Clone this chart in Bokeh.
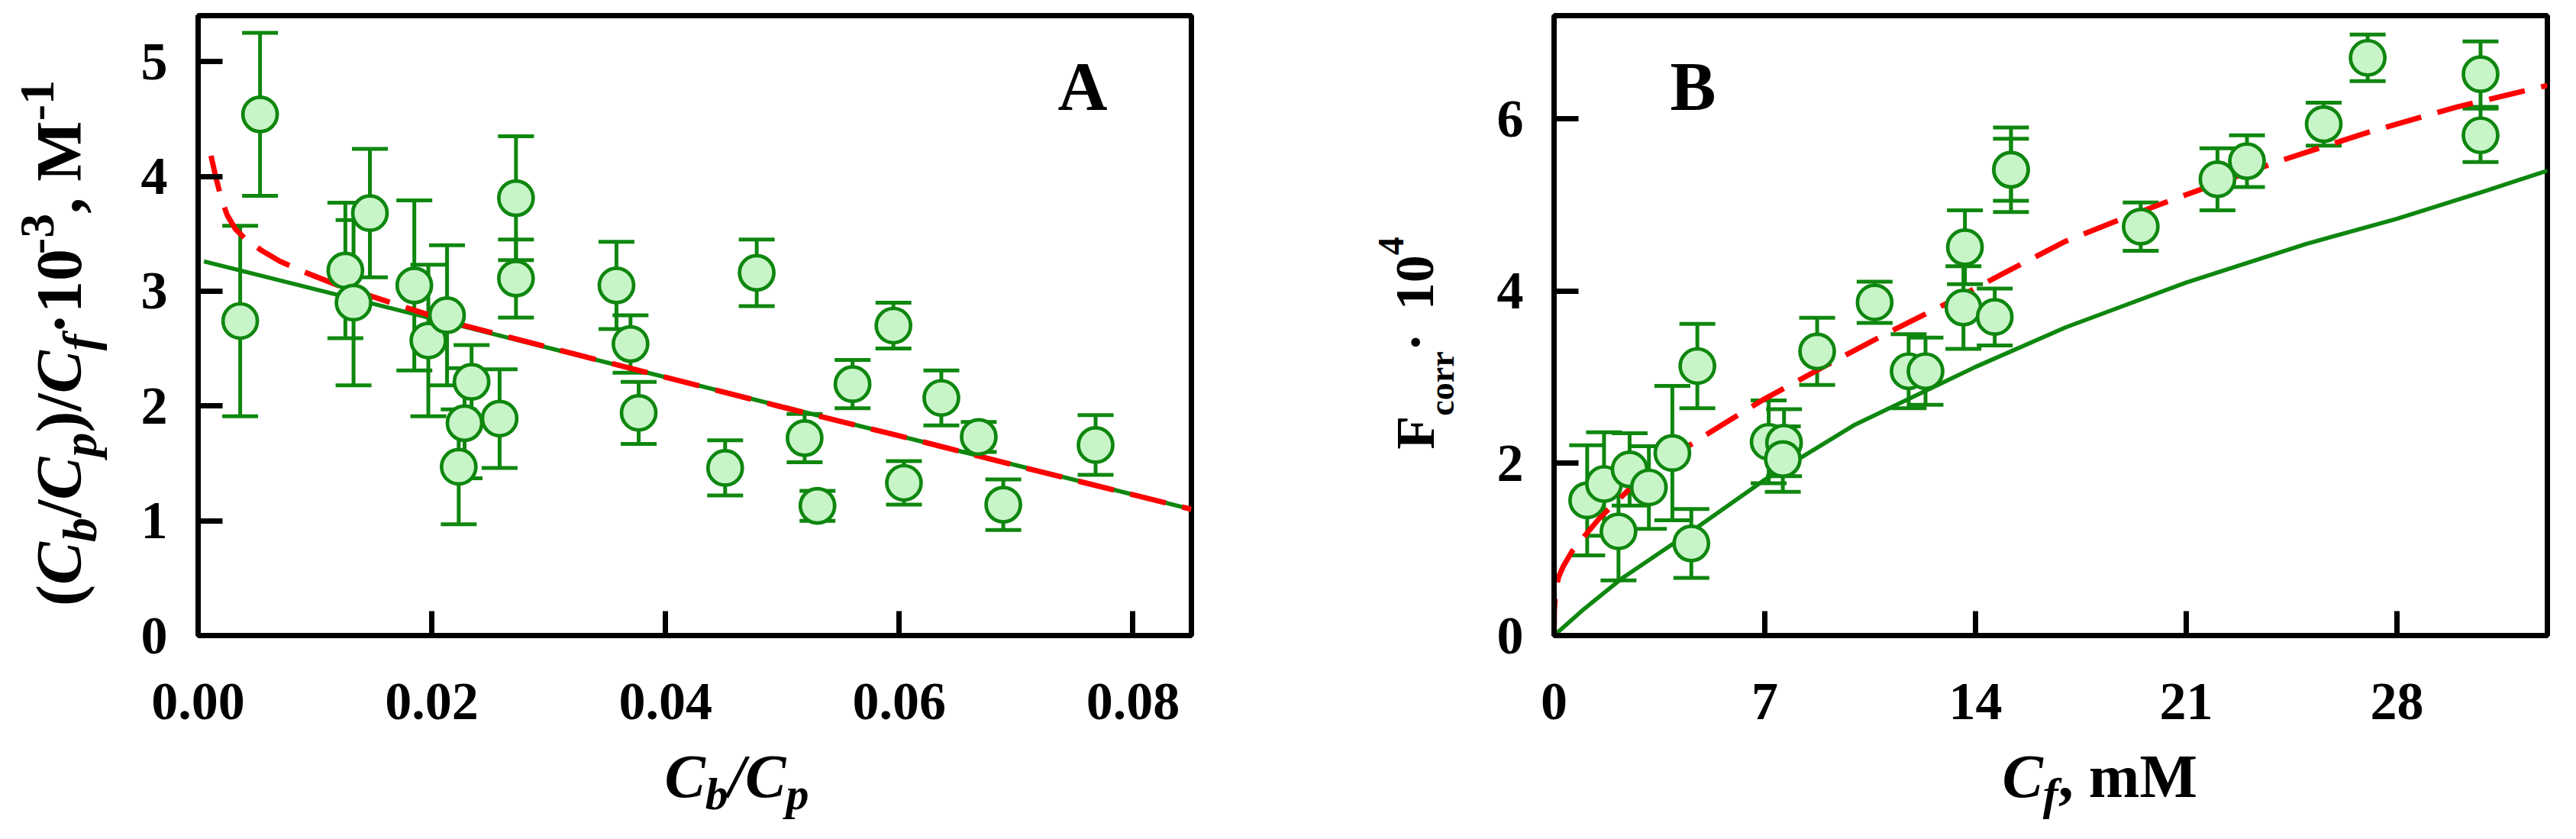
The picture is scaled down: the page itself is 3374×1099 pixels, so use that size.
import math
from bokeh.plotting import figure
from bokeh.models import Range1d, FixedTicker, NumeralTickFormatter, Whisker, TeeHead, ColumnDataSource, Label
from bokeh.layouts import row, column
from bokeh.embed import file_html
from bokeh.resources import INLINE

# ---------------- data: panel A ----------------
xA = [0.0036, 0.0053, 0.0126, 0.0133, 0.0147, 0.0185, 0.0197, 0.0213, 0.0234, 0.0228,
      0.0223, 0.0258, 0.0272, 0.0272, 0.0358, 0.0370, 0.0377, 0.0451, 0.0478, 0.0519,
      0.0530, 0.0560, 0.0595, 0.0604, 0.0636, 0.0668, 0.0689, 0.0768]
yA = [2.74, 4.54, 3.18, 2.90, 3.68, 3.05, 2.57, 2.79, 2.21, 1.85,
      1.47, 1.89, 3.81, 3.11, 3.05, 2.54, 1.94, 1.46, 3.16, 1.72,
      1.13, 2.19, 2.70, 1.33, 2.07, 1.73, 1.14, 1.66]
eA = [0.83, 0.71, 0.59, 0.72, 0.56, 0.74, 0.66, 0.61, 0.32, 0.48,
      0.50, 0.43, 0.54, 0.34, 0.38, 0.25, 0.27, 0.24, 0.29, 0.21,
      0.13, 0.21, 0.20, 0.19, 0.24, 0.13, 0.22, 0.26]
fitA_x = [0.0005, 0.085]
fitA_y = [3.26, 1.10]
redA_x = [0.0011, 0.0015, 0.0020, 0.0025, 0.0032, 0.0042, 0.0055, 0.0070, 0.0090, 0.012,
          0.015, 0.018, 0.022, 0.030, 0.040, 0.050, 0.060, 0.070, 0.085]
redA_y = [4.18, 4.00, 3.80, 3.66, 3.54, 3.44, 3.35, 3.26, 3.17, 3.05,
          2.95, 2.85, 2.72, 2.51, 2.25, 1.99, 1.74, 1.48, 1.10]
xticksA = [0.0, 0.02, 0.04, 0.06, 0.08]
yticksA = [0, 1, 2, 3, 4, 5]

# ---------------- data: panel B ----------------
xB = [1.10, 1.66, 2.14, 2.51, 3.15, 3.93, 4.76, 4.56, 7.13, 7.64, 7.60, 8.74, 10.65, 11.78,
      12.34, 13.60, 13.65, 14.64, 15.18, 15.18, 19.49, 22.04, 23.02, 25.57, 27.03, 30.78, 30.78]
yB = [1.57, 1.76, 1.21, 1.93, 1.72, 2.12, 3.13, 1.07, 2.25, 2.24, 2.05, 3.30, 3.87, 3.07,
      3.07, 3.81, 4.51, 3.70, 5.41, 5.41, 4.75, 5.30, 5.51, 5.94, 6.71, 6.52, 5.81]
eB = [0.64, 0.60, 0.57, 0.42, 0.48, 0.78, 0.49, 0.40, 0.48, 0.39, 0.38, 0.39, 0.24, 0.43,
      0.39, 0.48, 0.43, 0.33, 0.49, 0.36, 0.28, 0.36, 0.30, 0.25, 0.27, 0.38, 0.31]
greenB_x = [0, 1, 2.24, 4.6, 7, 10, 14, 17, 21, 25, 28, 31, 33]
greenB_y = [0, 0.31, 0.66, 1.22, 1.81, 2.45, 3.12, 3.58, 4.10, 4.55, 4.84, 5.17, 5.40]
redB_x = [0, 0.01, 0.05, 0.15, 0.3, 0.6, 1.0, 1.5, 2.5, 3.5, 4.5, 5.5, 7, 9, 11, 13, 15,
          17, 19, 21, 24, 27, 30, 33]
redB_y = [0, 0.30, 0.52, 0.68, 0.80, 0.98, 1.15, 1.36, 1.70, 1.98, 2.21, 2.43, 2.75, 3.13,
          3.50, 3.85, 4.22, 4.58, 4.86, 5.12, 5.50, 5.84, 6.14, 6.39]
xticksB = [0, 7, 14, 21, 28]
yticksB = [0, 2, 4, 6]

# ---------------- style ----------------
GREEN = "#0f870f"
FILL = "#c8f5c8"
RED = "#ff0000"
FONT = "Liberation Serif"
TOP, FRAME_H, BOTTOM = 20, 812, 140
HT = TOP + FRAME_H + BOTTOM          # height of plot figures
HB = 111                             # height of x-label strips
OX, OY = 8, 8                        # page margin
LIFT_H, LIFT_R = 0.36, 0.33          # baseline corrections (in em)

BOLD_W = {'(': .333, ')': .333, '/': .278, '·': .25, ',': .25, ' ': .25, 'M': .944,
          'F': .611, 'c': .444, 'o': .5, 'r': .444, 'm': .833, '-': .333}
BI_W = {'C': .667, 'b': .5, 'p': .5, 'f': .333, '/': .278}


def advance(text, style, size):
    table = BI_W if "italic" in style else BOLD_W
    return sum(table.get(ch, 0.5) for ch in text) * size


def make_fig(width, left, right, xr, yr, xticks, yticks, xfmt=None):
    p = figure(width=width, height=HT, x_range=Range1d(*xr), y_range=Range1d(*yr),
               output_backend="svg", toolbar_location=None,
               min_border_left=left, min_border_right=right,
               min_border_top=TOP, min_border_bottom=BOTTOM)
    p.grid.visible = False
    p.background_fill_color = "white"
    p.border_fill_color = "white"
    p.outline_line_color = "black"
    p.outline_line_width = 7
    for ax in (p.xaxis[0], p.yaxis[0]):
        ax.axis_line_width = 7
        ax.axis_line_color = "black"
        ax.major_tick_line_width = 7
        ax.major_tick_line_color = "black"
        ax.major_tick_in = 32
        ax.major_tick_out = 0
        ax.minor_tick_line_color = None
        ax.major_label_text_font = FONT
        ax.major_label_text_font_style = "bold"
        ax.major_label_text_font_size = "70px"
        ax.major_label_text_color = "black"
    p.xaxis[0].ticker = FixedTicker(ticks=xticks)
    p.yaxis[0].ticker = FixedTicker(ticks=yticks)
    p.xaxis[0].major_label_standoff = 63
    p.yaxis[0].major_label_standoff = 40
    if xfmt:
        p.xaxis[0].formatter = NumeralTickFormatter(format=xfmt)
    return p


def text_fig(width, height, top=0, bottom=0):
    # a bare figure whose frame is used as a pixel canvas for the axis titles
    t = figure(width=width, height=height, x_range=Range1d(0, width),
               y_range=Range1d(0, height - top - bottom),
               output_backend="svg", toolbar_location=None, x_axis_type=None, y_axis_type=None,
               min_border_left=0, min_border_right=0, min_border_top=top,
               min_border_bottom=bottom, title=None)
    t.grid.visible = False
    t.outline_line_color = None
    t.background_fill_color = "white"
    t.border_fill_color = "white"
    return t


def add_series(p, xs, ys, es, lines):
    for lx, ly, kind in lines:
        if kind == "solid":
            p.line(lx, ly, line_color=GREEN, line_width=5.5)
        else:
            p.line(lx, ly, line_color=RED, line_width=7, line_dash="48 22")
    src = ColumnDataSource(dict(x=xs, y=ys,
                                lo=[y - e for y, e in zip(ys, es)],
                                hi=[y + e for y, e in zip(ys, es)]))
    w = Whisker(base="x", lower="lo", upper="hi", source=src, line_color=GREEN,
                line_width=5, level="underlay",
                upper_head=TeeHead(size=47, line_color=GREEN, line_width=5),
                lower_head=TeeHead(size=47, line_color=GREEN, line_width=5))
    p.add_layout(w)
    p.scatter("x", "y", source=src, marker="circle", size=45, fill_color=FILL,
              line_color=GREEN, line_width=4.7)


def frame_mapper(fl, fr, ft, fb, xr, yr):
    def f(px, py):
        return (xr[0] + (px - fl) / (fr - fl) * (xr[1] - xr[0]),
                yr[0] + (fb - py) / (fb - ft) * (yr[1] - yr[0]))
    return f


def pixel_mapper(ox, frame_top, frame_h):
    def f(px, py):
        return (px - ox, frame_top + frame_h - py)
    return f


def place(p, m, pieces, x0, y0, rotated=False, center=False):
    # pieces: (text, style, size, shift) ; shift > 0 lowers the piece (subscript)
    total = sum(advance(t, s, z) for t, s, z, _ in pieces)
    pos = y0 + total / 2 if (rotated and center) else x0
    for t, s, z, sh in pieces:
        if rotated:
            dx, dy = m(x0 + sh - LIFT_R * z, pos)
            ang = math.pi / 2
        else:
            dx, dy = m(pos, y0 + sh - LIFT_H * z)
            ang = 0
        p.add_layout(Label(x=dx, y=dy, text=t, angle=ang, text_font=FONT,
                           text_font_style=s, text_font_size=f"{z}px",
                           text_baseline="alphabetic", text_align="left",
                           text_color="black"))
        a = advance(t, s, z)
        pos = pos - a if rotated else pos + a


B_, BI, S, s = "bold", "bold italic", 84, 64
XS, xs_ = 80, 60                     # x-title sizes (main, subscript)

# ---------------- panel A ----------------
WA, WLA = 1620, 175
xrA, yrA = (0, 0.085), (0, 5.4)
FLA, FRA = 267, 1568
pA = make_fig(WA - WLA, FLA - (OX + WLA), (OX + WA) - FRA, xrA, yrA, xticksA, yticksA, xfmt="0.00")
add_series(pA, xA, yA, eA, [(fitA_x, fitA_y, "solid"), (redA_x, redA_y, "dash")])
mA = frame_mapper(FLA, FRA, OY + TOP, OY + TOP + FRAME_H, xrA, yrA)
place(pA, mA, [("A", B_, 90, 0)], 1393, 153)

ylabA = text_fig(WLA, HT, TOP, BOTTOM)
place(ylabA, pixel_mapper(OX, OY + TOP, FRAME_H),
      [("(", B_, S, 0), ("C", BI, S, 0), ("b", BI, s, 20), ("/", B_, S, 0),
       ("C", BI, S, 0), ("p", BI, s, 20), (")/", B_, S, 0), ("C", BI, S, 0),
       ("f", BI, s, 20), ("·10", B_, S, 0), ("-3", B_, s, -35),
       (", M", B_, S, 0), ("-1", B_, s, -35)], 113, 457, rotated=True, center=True)

xlabA = text_fig(WA, HB)
place(xlabA, pixel_mapper(OX, OY + HT, HB),
      [("C", BI, XS, 0), ("b", BI, xs_, 16), ("/", BI, XS, 0), ("C", BI, XS, 0),
       ("p", BI, xs_, 16)], 878, 1053)

# ---------------- panel B ----------------
WB, WLB = 1738, 312
xrB, yrB = (0, 33), (0, 7.2)
XB0 = OX + WA
FLB, FRB = 2043, 3344
pB = make_fig(WB - WLB, FLB - (XB0 + WLB), (XB0 + WB) - FRB, xrB, yrB, xticksB, yticksB)
add_series(pB, xB, yB, eB, [(greenB_x, greenB_y, "solid"), (redB_x, redB_y, "dash")])
mB = frame_mapper(FLB, FRB, OY + TOP, OY + TOP + FRAME_H, xrB, yrB)
place(pB, mB, [("B", B_, 90, 0)], 2195, 153)

ylabB = text_fig(WLB, HT, TOP, BOTTOM)
place(ylabB, pixel_mapper(XB0, OY + TOP, FRAME_H),
      [("F", B_, 72, 0), ("corr", B_, 46, 26), (" · ", B_, 72, 0),
       ("10", B_, 72, 0), ("4", B_, 48, -40)], 1885, 457, rotated=True, center=True)

xlabB = text_fig(WB, HB)
place(xlabB, pixel_mapper(XB0, OY + HT, HB),
      [("C", BI, XS, 0), ("f", BI, xs_, 16), (", mM", B_, XS, 0)], 2630, 1053)

layout = row(column(row(ylabA, pA), xlabA), column(row(ylabB, pB), xlabB))
open("out.html", "w").write(file_html(layout, INLINE))
